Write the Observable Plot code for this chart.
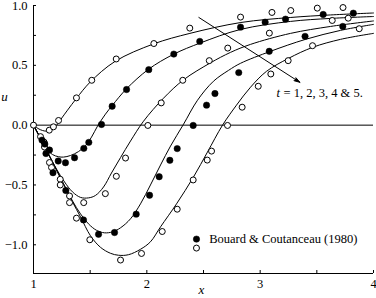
<!DOCTYPE html>
<html><head><meta charset="utf-8">
<script src="https://cdn.jsdelivr.net/npm/d3@7"></script>
<script src="https://cdn.jsdelivr.net/npm/@observablehq/plot@0.6"></script>
<style>html,body{margin:0;padding:0;background:#fff}svg{display:block}svg text{font-family:"Liberation Serif",serif !important}</style>
</head><body><div id="chart"></div>
<script>
// computed curves u(x) for t = 1..5
const curve1X = [1.0,1.04,1.08,1.12,1.16,1.2,1.25,1.3,1.38,1.5,1.72,2.06,2.38,2.83,3.27,3.62,4.0];
const curve1U = [0,-0.028,-0.045,-0.05,-0.035,-0.005,0.06,0.125,0.225,0.36,0.533,0.679,0.767,0.858,0.9,0.921,0.9375];
const curve2X = [1.0,1.062,1.115,1.168,1.221,1.265,1.326,1.397,1.459,1.512,1.565,1.635,1.697,1.821,2.015,2.235,2.474,2.827,3.268,3.621,4.0];
const curve2U = [0,-0.108,-0.196,-0.246,-0.264,-0.267,-0.254,-0.221,-0.171,-0.1,-0.008,0.092,0.167,0.304,0.467,0.592,0.6875,0.8,0.867,0.892,0.908];
const curve3X = [1.0,1.062,1.132,1.203,1.274,1.344,1.415,1.485,1.547,1.618,1.688,1.768,1.856,1.971,2.147,2.324,2.562,2.738,2.915,3.268,3.621,4.0];
const curve3U = [0,-0.1125,-0.242,-0.367,-0.475,-0.558,-0.604,-0.608,-0.5875,-0.517,-0.4,-0.271,-0.133,0.033,0.225,0.379,0.521,0.608,0.675,0.767,0.825,0.871];
const curve4X = [1.0,1.062,1.132,1.203,1.274,1.344,1.415,1.485,1.556,1.626,1.697,1.768,1.856,1.944,2.032,2.121,2.209,2.324,2.447,2.588,2.721,2.827,3.091,3.4,3.709,4.0];
const curve4U = [0,-0.1125,-0.242,-0.375,-0.508,-0.633,-0.742,-0.825,-0.879,-0.9,-0.892,-0.858,-0.783,-0.658,-0.5,-0.333,-0.175,0.008,0.208,0.367,0.458,0.517,0.617,0.717,0.792,0.842];
const curve5X = [1.0,1.062,1.132,1.203,1.274,1.344,1.415,1.503,1.591,1.679,1.75,1.838,1.944,2.032,2.121,2.262,2.412,2.535,2.668,2.791,2.915,3.056,3.25,3.462,3.709,4.0];
const curve5U = [0,-0.1125,-0.242,-0.375,-0.508,-0.642,-0.767,-0.925,-1.021,-1.071,-1.0875,-1.083,-1.0375,-0.975,-0.85,-0.658,-0.433,-0.225,0.0,0.167,0.317,0.45,0.558,0.65,0.717,0.767];

// experimental points (Bouard & Coutanceau 1980): open = t 1,3,5 ; filled = t 2,4
const obs1X = [1.0,1.139,1.176,1.221,1.379,1.514,1.73,2.062,2.379,2.827,3.104,3.27,3.504,3.731];
const obs1U = [0,-0.042,-0.014,0.039,0.228,0.375,0.553,0.682,0.811,0.903,0.942,0.958,0.978,0.983];
const obs2X = [1.075,1.141,1.218,1.282,1.362,1.444,1.488,1.6,1.694,1.821,2.017,2.238,2.467,2.827,3.044,3.224,3.556,3.822];
const obs2U = [-0.125,-0.208,-0.3,-0.314,-0.2725,-0.194,-0.144,0.006,0.158,0.2975,0.464,0.594,0.7,0.819,0.861,0.886,0.925,0.936];
const obs3X = [1.062,1.141,1.236,1.318,1.443,1.634,1.731,1.812,2.009,2.127,2.317,2.551,2.714,3.081,3.636,3.777];
const obs3U = [-0.096,-0.3125,-0.4525,-0.592,-0.6475,-0.5725,-0.4275,-0.275,-0.0025,0.186,0.375,0.539,0.644,0.769,0.875,0.894];
const obs4X = [1.1,1.11,1.172,1.285,1.441,1.574,1.715,1.906,2.024,2.109,2.203,2.268,2.409,2.527,2.601,2.811,3.08,3.396,3.729];
const obs4U = [-0.158,-0.2375,-0.3975,-0.546,-0.792,-0.9125,-0.8975,-0.744,-0.586,-0.431,-0.294,-0.196,-0.0025,0.167,0.264,0.439,0.617,0.742,0.825];
const obs5X = [1.093,1.097,1.159,1.236,1.318,1.379,1.497,1.768,1.953,2.136,2.268,2.409,2.533,2.571,2.712,2.841,2.983,3.094,3.247,3.462,3.874];
const obs5U = [-0.142,-0.183,-0.354,-0.5,-0.6475,-0.7775,-0.958,-1.1275,-1.0725,-0.889,-0.7025,-0.458,-0.292,-0.217,-0.0025,0.15,0.325,0.4275,0.539,0.664,0.806];

const xTicks = [1,1.5,2,2.5,3,3.5,4];
const xTickLabels = [1,2,3,4];
const yTicks = [-1,-0.75,-0.5,-0.25,0,0.25,0.5,0.75,1];
const yTickLabels = [-1,-0.5,0,0.5,1];
const annotationText = "= 1, 2, 3, 4 & 5.";
const legendText = "Bouard & Coutanceau (1980)";

const curves = [[curve1X,curve1U],[curve2X,curve2U],[curve3X,curve3U],[curve4X,curve4U],[curve5X,curve5U]];
const lineData = curves.flatMap(([xs,us],i)=>xs.map((x,j)=>({t:i+1,x,u:us[j]})));
const obs = [[obs1X,obs1U,true],[obs2X,obs2U,false],[obs3X,obs3U,true],[obs4X,obs4U,false],[obs5X,obs5U,true]];
const pts = obs.flatMap(([xs,us,open],i)=>xs.map((x,j)=>({t:i+1,x,u:us[j],open})));
const openPts = pts.filter(d=>d.open), filledPts = pts.filter(d=>!d.open);

const yMin = -1.24;
const fmtY = d => (d<0?"\u2212":"") + Math.abs(d).toFixed(1);
const serif = "Liberation Serif";

const chart = Plot.plot({
  width: 376, height: 298,
  marginLeft: 33, marginRight: 3, marginTop: 5, marginBottom: 25,
  x: {domain: [1,4], label: null},
  y: {domain: [yMin,1], label: null},
  style: "font-family: 'Liberation Serif', serif; font-size: 12.5px; color: black; background: white;",
  marks: [
    Plot.ruleX([1], {stroke: "black", strokeWidth: 1}),
    Plot.ruleY([yMin], {stroke: "black", strokeWidth: 1}),
    Plot.ruleY([0], {stroke: "black", strokeWidth: 1}),
    Plot.axisY(yTicks, {anchor: "left", tickSize: -3, fill: "none", label: null, stroke: "black"}),
    Plot.axisY(yTickLabels, {anchor: "left", tickSize: 0, tickPadding: 6, label: null, tickFormat: fmtY, fontSize: 12.5, fontFamily: serif}),
    Plot.axisX(xTicks, {anchor: "bottom", tickSize: -3, fill: "none", label: null, stroke: "black"}),
    Plot.axisX(xTickLabels, {anchor: "bottom", tickSize: 0, tickPadding: 6, label: null, tickFormat: d => String(d), fontSize: 12.5, fontFamily: serif}),
    Plot.text(["u"], {frameAnchor: "left", dx: -29, dy: -43, fontStyle: "italic", fontSize: 13, textAnchor: "middle", fontFamily: serif}),
    Plot.text(["x"], {frameAnchor: "bottom", dx: -2, dy: 20, fontStyle: "italic", fontSize: 13, textAnchor: "middle", fontFamily: serif}),
    Plot.line(lineData, {x: "x", y: "u", z: "t", curve: "catmull-rom", stroke: "black", strokeWidth: 1}),
    Plot.arrow([{x1: 2.459, y1: 0.9, x2: 3.35, y2: 0.358}], {x1: "x1", y1: "y1", x2: "x2", y2: "y2", stroke: "black", fill: "black", strokeWidth: 1, headLength: 9, headAngle: 34}),
    Plot.text(["t"], {x: 3.144, y: 0.267, textAnchor: "start", fontStyle: "italic", fontSize: 12.5, fontFamily: serif}),
    Plot.text([annotationText], {x: 3.144, y: 0.267, dx: 7, textAnchor: "start", fontSize: 12.5, fontFamily: serif}),
    Plot.dot(openPts, {x: "x", y: "u", r: 3, fill: "white", stroke: "black", strokeWidth: 1}),
    Plot.dot(filledPts, {x: "x", y: "u", r: 3.2, fill: "black", stroke: "black", strokeWidth: 0.5}),
    Plot.dot([{x: 2.438, u: -0.9525}], {x: "x", y: "u", r: 3.2, fill: "black", stroke: "black", strokeWidth: 0.5}),
    Plot.dot([{x: 2.438, u: -1.0275}], {x: "x", y: "u", r: 3, fill: "white", stroke: "black", strokeWidth: 1}),
    Plot.text([legendText], {x: 2.55, y: -0.9525, textAnchor: "start", fontSize: 12.5, fontFamily: serif})
  ]
});
document.getElementById("chart").append(chart);
</script>
</body></html>
